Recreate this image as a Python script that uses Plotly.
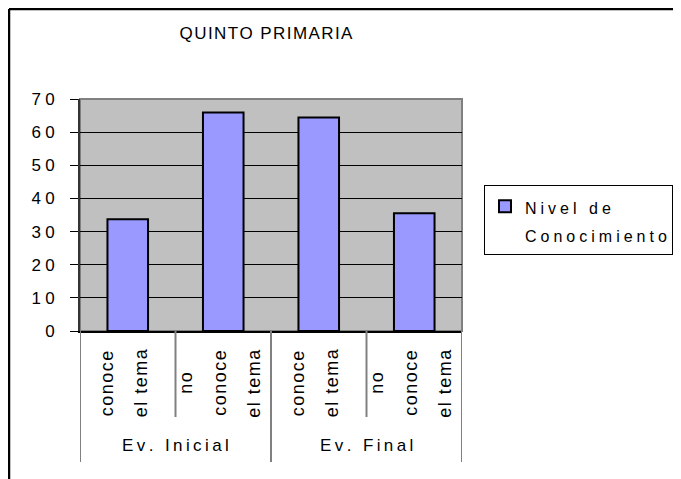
import plotly.graph_objects as go

# ---------------- data ----------------
title_text = "QUINTO PRIMARIA"
series_name = ["Nivel de", "Conocimiento"]
inner_labels = [["conoce", "el tema"],
                ["no", "conoce", "el tema"],
                ["conoce", "el tema"],
                ["no", "conoce", "el tema"]]
group_labels = ["Ev. Inicial", "Ev. Final"]
group_size = [2, 2]
values = [33.7, 65.9, 64.4, 35.5]
y_ticks = [0, 10, 20, 30, 40, 50, 60, 70]

# ---------------- helpers ----------------
HAIR = "\u200a"
THIN = "\u2009"
FOUR = "\u2005"


def spaced(s, sep):
    return sep.join(list(s))


# page has an 8px body margin: work in screen pixels, convert to figure pixels
OFF = 8
W, H = 681 - OFF, 479 - OFF
SL, SR, ST, SB = 80, 462, 99, 331          # plot area in screen px
L, T = SL - OFF, ST - OFF
pw, ph = SR - SL, SB - ST
R, B = W - L - pw, H - T - ph
FONT = "Liberation Sans, Arial, sans-serif"


def sx(px):   # screen x -> paper
    return (px - SL) / pw


def sy(py):   # screen y -> paper
    return (SB - py) / ph


xs = list(range(len(values)))

fig = go.Figure()
legend_name = "<br>".join('<span style="font-size:16px">' + spaced(s, FOUR) + "</span>"
                          for s in series_name)
fig.add_trace(go.Bar(
    x=xs, y=values,
    name=legend_name,
    marker=dict(color="#9999FF", line=dict(color="black", width=2)),
    width=0.425,
    showlegend=True,
))

shapes = []
shapes.append(dict(type="rect", xref="paper", yref="paper", x0=0, x1=1, y0=0, y1=1,
                   line=dict(color="#808080", width=2), layer="below"))
n = len(values)
bounds = [i - 0.5 for i in range(n + 1)]
group_edges = [-0.5]
acc = -0.5
for g in group_size:
    acc += g
    group_edges.append(acc)
for b in bounds:
    long = any(abs(b - ge) < 1e-9 for ge in group_edges)
    y_end = sy(462) if long else sy(417)
    shapes.append(dict(type="line", xref="x", yref="paper", x0=b, x1=b, y0=0, y1=y_end,
                       line=dict(color="#808080", width=2)))
# outer chart border (left/top visible)
shapes.append(dict(type="line", xref="paper", yref="paper",
                   x0=sx(OFF + 1), x1=sx(720), y0=sy(OFF + 1), y1=sy(OFF + 1),
                   line=dict(color="black", width=2.5)))
shapes.append(dict(type="line", xref="paper", yref="paper",
                   x0=sx(OFF + 1), x1=sx(OFF + 1), y0=sy(OFF + 1), y1=sy(520),
                   line=dict(color="black", width=2.5)))

annotations = []
label_y = sy(383)
for i, lines in enumerate(inner_labels):
    k = len(lines)
    for j, line in enumerate(lines):
        off = -3.5 + (j - (k - 1) / 2) * 34
        annotations.append(dict(x=xs[i], xref="x", y=label_y, yref="paper",
                                xanchor="center", yanchor="middle",
                                text=spaced(line, HAIR), textangle=-90, xshift=off,
                                showarrow=False, font=dict(size=18, color="black", family=FONT)))
start = 0
for g, size in zip(group_labels, group_size):
    cx = (xs[start] + xs[start + size - 1]) / 2
    annotations.append(dict(x=cx, xref="x", y=sy(445), yref="paper",
                            xanchor="center", yanchor="middle",
                            text=spaced(g, THIN), showarrow=False,
                            font=dict(size=17, color="black", family=FONT)))
    start += size

fig.update_layout(
    width=W, height=H,
    margin=dict(l=L, r=R, t=T, b=B, pad=0, autoexpand=False),
    paper_bgcolor="white",
    plot_bgcolor="#C0C0C0",
    font=dict(family=FONT, color="black"),
    title=dict(text=spaced(title_text, HAIR), x=(266 - OFF) / W, xanchor="center",
               y=1 - (33.5 - OFF) / H, yanchor="middle", xref="container", yref="container",
               font=dict(size=17, color="black", family=FONT)),
    xaxis=dict(range=[-0.5, n - 0.5], showticklabels=False, ticks="", showgrid=False,
               zeroline=False, showline=True, linecolor="black", linewidth=1.5,
               fixedrange=True, automargin=False),
    yaxis=dict(range=[0, 70], tickvals=y_ticks,
               ticktext=[spaced(str(v), FOUR) for v in y_ticks],
               showgrid=True, gridcolor="black", gridwidth=1,
               zeroline=False, showline=True, linecolor="#333333", linewidth=2,
               ticks="outside", ticklen=8, tickcolor="black", tickwidth=1,
               ticklabelstandoff=12, automargin=False,
               tickfont=dict(size=17, color="black", family=FONT)),
    legend=dict(x=sx(484), y=sy(185), xanchor="left", yanchor="top",
                bgcolor="white", bordercolor="black", borderwidth=1,
                font=dict(size=21, color="black", family=FONT), valign="top"),
    shapes=shapes,
    annotations=annotations,
    bargap=0.575,
)

fig.write_html("out.html")
